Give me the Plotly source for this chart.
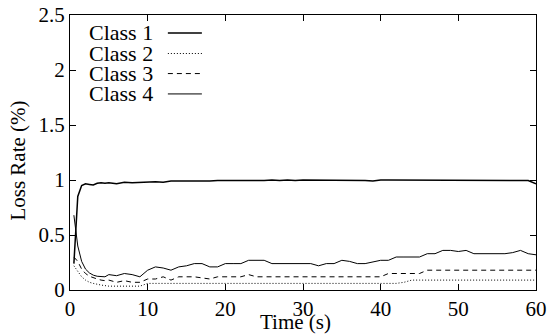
import plotly.graph_objects as go

# Sampling instants (s): finer steps during the start-up transient
time_s = [0.5, 1, 1.5, 2, 2.5, 3, 3.5, 4, 4.5, 5,
          6, 7, 8, 9, 10, 11, 12, 13, 14, 15,
          16, 17, 18, 19, 20, 21, 22, 23, 24, 25,
          26, 27, 28, 29, 30, 31, 32, 33, 34, 35,
          36, 37, 38, 39, 40, 41, 42, 43, 44, 45,
          46, 47, 48, 49, 50, 51, 52, 53, 54, 55,
          56, 57, 58, 59, 60]

class1 = [0.24, 0.85, 0.95, 0.965, 0.96, 0.955, 0.97, 0.975, 0.97, 0.975,
          0.965, 0.98, 0.975, 0.98, 0.985, 0.985, 0.98, 0.99, 0.99, 0.99,
          0.99, 0.985, 0.99, 0.995, 0.995, 0.995, 0.99, 0.995, 0.995, 0.995,
          1.0, 0.995, 1.0, 0.995, 1.0, 1.0, 0.995, 1.0, 0.995, 1.0,
          0.995, 1.0, 0.995, 0.99, 1.0, 1.0, 1.0, 1.0, 1.0, 1.0,
          1.0, 1.0, 1.0, 1.0, 1.0, 1.0, 1.0, 1.0, 1.0, 1.0,
          1.0, 1.0, 1.0, 0.995, 0.965]

class2 = [0.22, 0.17, 0.12, 0.09, 0.07, 0.06, 0.05, 0.045, 0.04, 0.035,
          0.035, 0.035, 0.035, 0.035, 0.06, 0.06, 0.06, 0.06, 0.06, 0.06,
          0.06, 0.06, 0.06, 0.06, 0.06, 0.06, 0.06, 0.06, 0.06, 0.06,
          0.06, 0.06, 0.06, 0.06, 0.06, 0.06, 0.06, 0.06, 0.06, 0.06,
          0.06, 0.06, 0.06, 0.06, 0.06, 0.06, 0.06, 0.07, 0.09, 0.09,
          0.09, 0.09, 0.09, 0.09, 0.09, 0.09, 0.09, 0.09, 0.09, 0.09,
          0.09, 0.09, 0.09, 0.09, 0.09]

class3 = [0.30, 0.26, 0.19, 0.15, 0.125, 0.11, 0.10, 0.09, 0.085, 0.09,
          0.07, 0.085, 0.07, 0.07, 0.10, 0.10, 0.12, 0.09, 0.12, 0.12,
          0.12, 0.11, 0.10, 0.12, 0.12, 0.12, 0.12, 0.14, 0.12, 0.12,
          0.12, 0.12, 0.12, 0.12, 0.12, 0.12, 0.12, 0.12, 0.12, 0.12,
          0.12, 0.12, 0.12, 0.12, 0.12, 0.15, 0.15, 0.15, 0.15, 0.15,
          0.18, 0.18, 0.18, 0.18, 0.18, 0.18, 0.18, 0.18, 0.18, 0.18,
          0.175, 0.18, 0.18, 0.18, 0.18]

class4 = [0.68, 0.40, 0.26, 0.19, 0.155, 0.135, 0.125, 0.12, 0.12, 0.14,
          0.13, 0.15, 0.14, 0.12, 0.18, 0.21, 0.20, 0.18, 0.21, 0.22,
          0.24, 0.24, 0.21, 0.21, 0.24, 0.24, 0.24, 0.27, 0.27, 0.27,
          0.24, 0.24, 0.24, 0.24, 0.24, 0.24, 0.22, 0.24, 0.24, 0.27,
          0.26, 0.24, 0.24, 0.255, 0.27, 0.27, 0.30, 0.30, 0.30, 0.30,
          0.33, 0.33, 0.36, 0.36, 0.35, 0.36, 0.33, 0.33, 0.33, 0.33,
          0.33, 0.34, 0.36, 0.33, 0.32]

series_names = ["Class 1", "Class 2", "Class 3", "Class 4"]
series_values = [class1, class2, class3, class4]
series_dash = ["solid", "1px,2px", "5px,4px", "solid"]
series_width = [1.5, 1.0, 1.0, 1.0]

x_ticks = [0, 10, 20, 30, 40, 50, 60]
y_ticks = [0, 0.5, 1, 1.5, 2, 2.5]
y_tick_text = ["0", "0.5", "1", "1.5", "2", "2.5"]

FONT = "Liberation Serif, Times New Roman, serif"
SIZE = 21

fig = go.Figure()
for name, vals, dash, w in zip(series_names, series_values, series_dash, series_width):
    fig.add_trace(go.Scatter(x=time_s, y=vals, mode="lines", name=name,
                             line=dict(color="black", width=w, dash=dash),
                             showlegend=False))

# Key in the upper-left corner: label text followed by a line sample
key_rows_y = [0.935, 0.860, 0.787, 0.713]
for name, dash, w, ky in zip(series_names, series_dash, series_width, key_rows_y):
    fig.add_annotation(x=0.183, y=ky, xref="paper", yref="paper", text=name,
                       showarrow=False, xanchor="right", yanchor="middle",
                       font=dict(family=FONT, size=22, color="black"))
    fig.add_shape(type="line", xref="paper", yref="paper",
                  x0=0.210, x1=0.283, y0=ky, y1=ky,
                  line=dict(color="black", width=w, dash=dash))

axis_common = dict(showline=True, linecolor="black", linewidth=1, mirror="ticks",
                   ticks="inside", ticklen=6, tickcolor="black", tickwidth=1,
                   showgrid=False, zeroline=False, automargin=False,
                   tickfont=dict(family=FONT, size=SIZE, color="black"))

fig.update_xaxes(range=[0, 60], tickvals=x_ticks, **axis_common)
fig.update_yaxes(range=[0, 2.5], tickvals=y_ticks, ticktext=y_tick_text, **axis_common)

fig.add_annotation(x=0.484, y=-0.118, xref="paper", yref="paper", text="Time (s)",
                   showarrow=False, xanchor="center", yanchor="middle",
                   font=dict(family=FONT, size=SIZE, color="black"))
fig.add_annotation(x=-0.112, y=0.47, xref="paper", yref="paper", text="Loss Rate (%)",
                   showarrow=False, xanchor="center", yanchor="middle", textangle=-90,
                   font=dict(family=FONT, size=SIZE, color="black"))

fig.update_layout(width=549, height=334,
                  margin=dict(l=70, r=13, t=15, b=44),
                  plot_bgcolor="white", paper_bgcolor="white")

fig.write_html("out.html")
